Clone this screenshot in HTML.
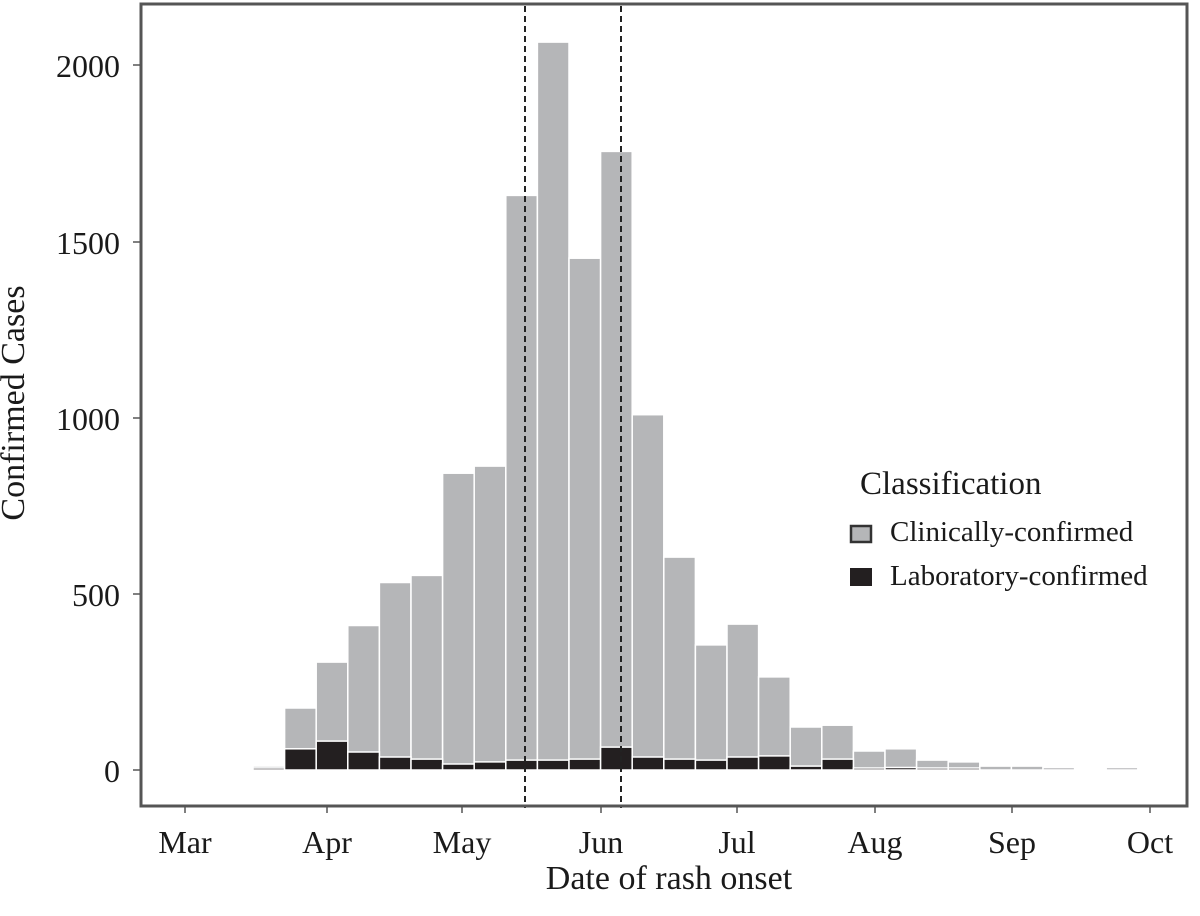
<!DOCTYPE html>
<html><head><meta charset="utf-8"><style>
html,body{margin:0;padding:0;background:#fff;}
svg{display:block;}
text{font-family:"Liberation Serif",serif;fill:#1a1a1a;}
</style></head><body>
<svg width="1200" height="916" viewBox="0 0 1200 916" xmlns="http://www.w3.org/2000/svg">
<g stroke="#fff" stroke-width="1.5">
<g fill="#b5b6b8">
<rect x="253.0" y="766.1" width="31.6" height="3.9"/>
<rect x="284.6" y="708.0" width="31.6" height="62.0"/>
<rect x="316.2" y="662.1" width="31.6" height="107.9"/>
<rect x="347.8" y="625.5" width="31.6" height="144.5"/>
<rect x="379.4" y="582.5" width="31.6" height="187.5"/>
<rect x="411.0" y="575.4" width="31.6" height="194.6"/>
<rect x="442.6" y="473.2" width="31.6" height="296.8"/>
<rect x="474.2" y="466.1" width="31.6" height="303.9"/>
<rect x="505.8" y="195.4" width="31.6" height="574.6"/>
<rect x="537.4" y="42.1" width="31.6" height="727.9"/>
<rect x="569.0" y="258.2" width="31.6" height="511.8"/>
<rect x="600.6" y="151.4" width="31.6" height="618.6"/>
<rect x="632.2" y="414.7" width="31.6" height="355.3"/>
<rect x="663.8" y="557.1" width="31.6" height="212.9"/>
<rect x="695.4" y="644.9" width="31.6" height="125.1"/>
<rect x="727.0" y="624.1" width="31.6" height="145.9"/>
<rect x="758.6" y="676.9" width="31.6" height="93.1"/>
<rect x="790.2" y="727.0" width="31.6" height="43.0"/>
<rect x="821.8" y="725.2" width="31.6" height="44.8"/>
<rect x="853.4" y="751.0" width="31.6" height="19.0"/>
<rect x="885.0" y="748.8" width="31.6" height="21.2"/>
<rect x="916.6" y="760.1" width="31.6" height="9.9"/>
<rect x="948.2" y="761.9" width="31.6" height="8.1"/>
<rect x="979.8" y="766.1" width="31.6" height="3.9"/>
<rect x="1011.4" y="766.1" width="31.6" height="3.9"/>
<rect x="1043.0" y="767.5" width="31.6" height="2.5"/>
<rect x="1106.2" y="767.5" width="31.6" height="2.5"/>
</g>
<g fill="#231f20">
<rect x="253.0" y="768.0" width="31.6" height="2.0"/>
<rect x="284.6" y="748.8" width="31.6" height="21.2"/>
<rect x="316.2" y="741.1" width="31.6" height="28.9"/>
<rect x="347.8" y="752.0" width="31.6" height="18.0"/>
<rect x="379.4" y="757.0" width="31.6" height="13.0"/>
<rect x="411.0" y="759.1" width="31.6" height="10.9"/>
<rect x="442.6" y="764.0" width="31.6" height="6.0"/>
<rect x="474.2" y="761.9" width="31.6" height="8.1"/>
<rect x="505.8" y="760.1" width="31.6" height="9.9"/>
<rect x="537.4" y="760.1" width="31.6" height="9.9"/>
<rect x="569.0" y="759.1" width="31.6" height="10.9"/>
<rect x="600.6" y="747.1" width="31.6" height="22.9"/>
<rect x="632.2" y="757.0" width="31.6" height="13.0"/>
<rect x="663.8" y="759.1" width="31.6" height="10.9"/>
<rect x="695.4" y="760.1" width="31.6" height="9.9"/>
<rect x="727.0" y="757.0" width="31.6" height="13.0"/>
<rect x="758.6" y="755.9" width="31.6" height="14.1"/>
<rect x="790.2" y="766.1" width="31.6" height="3.9"/>
<rect x="821.8" y="759.1" width="31.6" height="10.9"/>
<rect x="853.4" y="768.0" width="31.6" height="2.0"/>
<rect x="885.0" y="767.5" width="31.6" height="2.5"/>
<rect x="916.6" y="768.0" width="31.6" height="2.0"/>
<rect x="948.2" y="768.0" width="31.6" height="2.0"/>
</g>
</g>
<g stroke="#222" stroke-width="2" stroke-dasharray="6,4">
<line x1="525" y1="6" x2="525" y2="808"/>
<line x1="621" y1="6" x2="621" y2="808"/>
</g>
<rect x="141" y="4" width="1046" height="802" fill="none" stroke="#555" stroke-width="3"/>
<g stroke="#555" stroke-width="1.5">
<line x1="133" y1="65" x2="140" y2="65"/>
<line x1="133" y1="242" x2="140" y2="242"/>
<line x1="133" y1="418" x2="140" y2="418"/>
<line x1="133" y1="594" x2="140" y2="594"/>
<line x1="133" y1="770" x2="140" y2="770"/>
<line x1="185" y1="806" x2="185" y2="813"/>
<line x1="327" y1="806" x2="327" y2="813"/>
<line x1="462" y1="806" x2="462" y2="813"/>
<line x1="601" y1="806" x2="601" y2="813"/>
<line x1="737" y1="806" x2="737" y2="813"/>
<line x1="875" y1="806" x2="875" y2="813"/>
<line x1="1012" y1="806" x2="1012" y2="813"/>
<line x1="1150" y1="806" x2="1150" y2="813"/>
</g>
<g font-size="32" text-anchor="end">
<text x="120" y="77">2000</text>
<text x="120" y="254">1500</text>
<text x="120" y="430">1000</text>
<text x="120" y="606">500</text>
<text x="120" y="782">0</text>
</g>
<g font-size="32" text-anchor="middle">
<text x="185" y="853">Mar</text>
<text x="327" y="853">Apr</text>
<text x="462" y="853">May</text>
<text x="601" y="853">Jun</text>
<text x="737" y="853">Jul</text>
<text x="875" y="853">Aug</text>
<text x="1012" y="853">Sep</text>
<text x="1150" y="853">Oct</text>
<text x="669" y="889" font-size="34">Date of rash onset</text>
<text transform="translate(24,403) rotate(-90)" font-size="34">Confirmed Cases</text>
</g>
<text x="860" y="494" font-size="33">Classification</text>
<rect x="851" y="526" width="20" height="16" fill="#b5b6b8" stroke="#333" stroke-width="2.5"/>
<text x="890" y="541" font-size="29">Clinically-confirmed</text>
<rect x="850" y="568" width="22" height="18" fill="#231f20"/>
<text x="890" y="585" font-size="29">Laboratory-confirmed</text>
</svg>
</body></html>
